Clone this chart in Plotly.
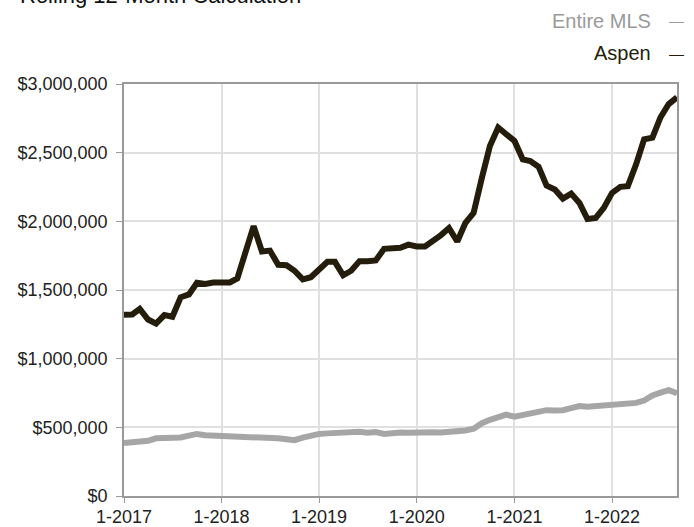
import pandas as pd
import plotly.graph_objects as go

# Monthly points, January 2017 through September 2022
months = pd.date_range("2017-01-01", periods=69, freq="MS")

# Rolling 12-month value, in thousands of dollars
aspen_k = [
    1320, 1322, 1362, 1285, 1255, 1317, 1305, 1447, 1468, 1553, 1544, 1555,
    1555, 1555, 1585, 1768, 1965, 1780, 1787, 1683, 1680, 1640, 1578, 1593,
    1646, 1705, 1705, 1607, 1640, 1710, 1710, 1715, 1800, 1800, 1807, 1830,
    1817, 1817, 1853, 1900, 1951, 1853, 1988, 2061, 2317, 2549, 2683, 2634,
    2585, 2451, 2439, 2398, 2260, 2232, 2166, 2202, 2134, 2017, 2025, 2098,
    2207, 2251, 2256, 2415, 2597, 2610, 2756, 2854, 2903,
]
entire_mls_k = [
    385, 388, 392, 402, 420, 422, 425, 426, 440, 452, 442, 440,
    433, 432, 430, 428, 428, 427, 432, 420, 413, 407, 425, 440,
    452, 456, 457, 468, 468, 468, 460, 466, 452, 460, 462, 460,
    465, 465, 465, 463, 466, 470, 477, 490, 530, 555, 572, 592,
    578, 590, 610, 620, 625, 622, 625, 640, 655, 650, 655, 650,
    660, 662, 665, 678, 695, 732, 752, 770, 748,
]

x_tick_dates = ["2017-01-01", "2018-01-01", "2019-01-01",
                "2020-01-01", "2021-01-01", "2022-01-01"]
x_tick_labels = ["1-2017", "1-2018", "1-2019", "1-2020", "1-2021", "1-2022"]
y_tick_values = [0, 500000, 1000000, 1500000, 2000000, 2500000, 3000000]
y_tick_labels = ["$0", "$500,000", "$1,000,000", "$1,500,000",
                 "$2,000,000", "$2,500,000", "$3,000,000"]

ASPEN_COLOR = "#241d0c"
MLS_COLOR = "#a6a6a6"
FONT = "Liberation Sans, Arial, Helvetica, sans-serif"

fig = go.Figure()
fig.add_trace(go.Scatter(
    x=months, y=[v * 1000 for v in entire_mls_k], mode="lines",
    line=dict(color=MLS_COLOR, width=6), name="Entire MLS",
))
fig.add_trace(go.Scatter(
    x=months, y=[v * 1000 for v in aspen_k], mode="lines",
    line=dict(color=ASPEN_COLOR, width=6), name="Aspen",
))

fig.update_layout(
    width=694, height=527,
    margin=dict(l=124, r=17, t=84, b=31),
    paper_bgcolor="white", plot_bgcolor="white",
    showlegend=False,
    font=dict(family=FONT, size=18, color="#222222"),
)

fig.update_xaxes(
    range=[months[0], months[-1]], automargin=False,
    tickmode="array", tickvals=x_tick_dates, ticktext=x_tick_labels,
    ticks="outside", ticklen=5, tickcolor="#999999", ticklabelstandoff=-1,
    showgrid=True, gridcolor="#e0e0e0", gridwidth=1.5,
    showline=True, linecolor="#999999", linewidth=1.5, mirror=True,
    tickfont=dict(size=18, color="#222222"), zeroline=False,
)
fig.update_yaxes(
    range=[0, 3000000], automargin=False,
    tickmode="array", tickvals=y_tick_values, ticktext=y_tick_labels,
    ticks="outside", ticklen=6, tickcolor="#999999", ticklabelstandoff=5,
    showgrid=True, gridcolor="#e0e0e0", gridwidth=1.5,
    showline=True, linecolor="#999999", linewidth=1.5, mirror=True,
    tickfont=dict(size=18, color="#222222"), zeroline=False,
)

# Chart title (top-left, partly above the page edge)
fig.add_annotation(
    text="Rolling 12-Month Calculation", xref="paper", yref="paper",
    x=-0.1917, y=1.2160, xanchor="left", yanchor="middle", showarrow=False,
    font=dict(family=FONT, size=22, color="#111111"),
)

# Series key, right-aligned above the plot
for label, color, ypos in [("Entire MLS", "#9a9a9a", 1.1536),
                           ("Aspen", ASPEN_COLOR, 1.0752)]:
    fig.add_annotation(
        text=label, xref="paper", yref="paper", x=(653 - 124) / 553, y=ypos,
        xanchor="right", yanchor="middle", showarrow=False,
        font=dict(family=FONT, size=20, color=color),
    )
    fig.add_annotation(
        text="\u2014", xref="paper", yref="paper", x=(676 - 124) / 553, y=ypos,
        xanchor="center", yanchor="middle", showarrow=False,
        font=dict(family=FONT, size=15, color=color),
    )

fig.write_html("out.html")
